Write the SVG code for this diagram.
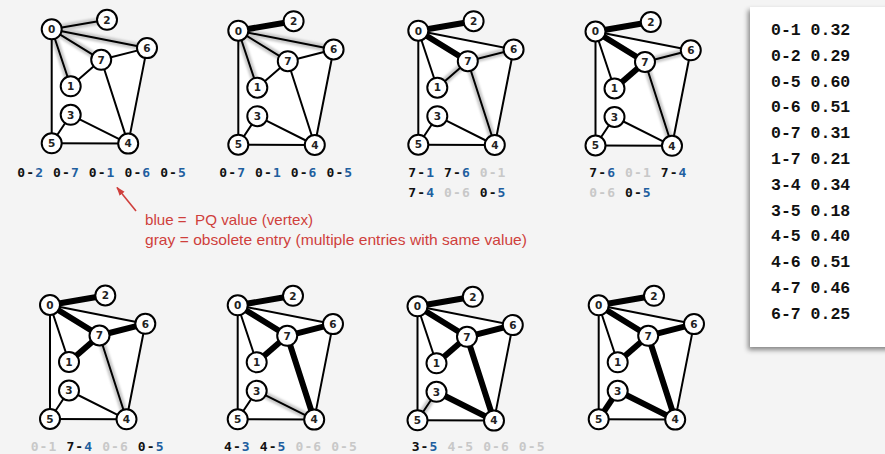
<svg xmlns="http://www.w3.org/2000/svg" width="885" height="454" viewBox="0 0 885 454">
<style>
.e{stroke:#000;stroke-width:2;stroke-linecap:round}
.b{stroke:#000;stroke-width:6;stroke-linecap:round}
.h{stroke:#c9c9c9;stroke-width:7;stroke-linecap:round;filter:url(#blur)}
.face{fill:#fff;stroke:none}
.node circle{fill:#fff;stroke:#000;stroke-width:2}
.node text{font-family:"DejaVu Sans",sans-serif;font-weight:bold;font-size:10.5px;text-anchor:middle;fill:#222}
.lab{font-family:"DejaVu Sans Mono",monospace;font-weight:bold;font-size:13px;letter-spacing:1.1px;fill:#111}
.bl{fill:#1f5f9f}
.gr{fill:#c8c8c8}
.red{font-family:"Liberation Sans",sans-serif;font-size:15px;fill:#cf3f3c}
.tab{font-family:"Liberation Mono",monospace;font-weight:bold;font-size:16.5px;fill:#111}
</style>
<defs>
<filter id="blur" x="-20%" y="-20%" width="140%" height="140%"><feGaussianBlur stdDeviation="0.9"/></filter>
<filter id="shadow" x="-10%" y="-10%" width="120%" height="120%"><feDropShadow dx="-2" dy="3" stdDeviation="2.5" flood-color="#000" flood-opacity="0.45"/></filter>
<marker id="arr" viewBox="0 0 10 10" refX="9" refY="5" markerWidth="9" markerHeight="9" orient="auto" markerUnits="userSpaceOnUse"><path d="M0,1.5 L10,5 L0,8.5 Z" fill="#cf3f3c"/></marker>
</defs>
<rect x="0" y="0" width="885" height="454" fill="#f4f4f4"/>

<!-- Graph 1 -->
<g id="graph1" transform="translate(51.7,29.3)">
<polygon class="face" points="0,0 95.3,18.8 76.5,114.3 0,114"/>
<g id="g1-connectors">
<line class="h" x1="0" y1="0" x2="55.3" y2="-9.5"/><line class="h" x1="0" y1="0" x2="49.5" y2="30.5"/><line class="h" x1="0" y1="0" x2="19" y2="57"/><line class="h" x1="0" y1="0" x2="95.3" y2="18.8"/><line class="h" x1="0" y1="0" x2="0" y2="114"/>
<line class="e" x1="0" y1="0" x2="19" y2="57"/><line class="e" x1="0" y1="0" x2="55.3" y2="-9.5"/><line class="e" x1="0" y1="0" x2="0" y2="114"/><line class="e" x1="0" y1="0" x2="95.3" y2="18.8"/><line class="e" x1="0" y1="0" x2="49.5" y2="30.5"/><line class="e" x1="19" y1="57" x2="49.5" y2="30.5"/><line class="e" x1="19" y1="85.5" x2="76.5" y2="114.3"/><line class="e" x1="19" y1="85.5" x2="0" y2="114"/><line class="e" x1="76.5" y1="114.3" x2="0" y2="114"/><line class="e" x1="76.5" y1="114.3" x2="95.3" y2="18.8"/><line class="e" x1="76.5" y1="114.3" x2="49.5" y2="30.5"/><line class="e" x1="95.3" y1="18.8" x2="49.5" y2="30.5"/>
</g>
<g id="g1-n0" class="node"><circle cx="0" cy="0" r="10"/><text x="0" y="3.8">0</text></g>
<g id="g1-n1" class="node"><circle cx="19" cy="57" r="10"/><text x="19" y="60.8">1</text></g>
<g id="g1-n2" class="node"><circle cx="55.3" cy="-9.5" r="10"/><text x="55.3" y="-5.7">2</text></g>
<g id="g1-n3" class="node"><circle cx="19" cy="85.5" r="10"/><text x="19" y="89.3">3</text></g>
<g id="g1-n4" class="node"><circle cx="76.5" cy="114.3" r="10"/><text x="76.5" y="118.1">4</text></g>
<g id="g1-n5" class="node"><circle cx="0" cy="114" r="10"/><text x="0" y="117.8">5</text></g>
<g id="g1-n6" class="node"><circle cx="95.3" cy="18.8" r="10"/><text x="95.3" y="22.6">6</text></g>
<g id="g1-n7" class="node"><circle cx="49.5" cy="30.5" r="10"/><text x="49.5" y="34.3">7</text></g>
</g>

<!-- Graph 2 -->
<g id="graph2" transform="translate(238.3,30.7)">
<polygon class="face" points="0,0 95.3,18.8 76.5,114.3 0,114"/>
<g id="g2-connectors">
<line class="h" x1="0" y1="0" x2="49.5" y2="30.5"/><line class="h" x1="0" y1="0" x2="19" y2="57"/><line class="h" x1="0" y1="0" x2="95.3" y2="18.8"/><line class="h" x1="0" y1="0" x2="0" y2="114"/>
<line class="e" x1="0" y1="0" x2="19" y2="57"/><line class="b" x1="0" y1="0" x2="55.3" y2="-9.5"/><line class="e" x1="0" y1="0" x2="0" y2="114"/><line class="e" x1="0" y1="0" x2="95.3" y2="18.8"/><line class="e" x1="0" y1="0" x2="49.5" y2="30.5"/><line class="e" x1="19" y1="57" x2="49.5" y2="30.5"/><line class="e" x1="19" y1="85.5" x2="76.5" y2="114.3"/><line class="e" x1="19" y1="85.5" x2="0" y2="114"/><line class="e" x1="76.5" y1="114.3" x2="0" y2="114"/><line class="e" x1="76.5" y1="114.3" x2="95.3" y2="18.8"/><line class="e" x1="76.5" y1="114.3" x2="49.5" y2="30.5"/><line class="e" x1="95.3" y1="18.8" x2="49.5" y2="30.5"/>
</g>
<g id="g2-n0" class="node"><circle cx="0" cy="0" r="10"/><text x="0" y="3.8">0</text></g>
<g id="g2-n1" class="node"><circle cx="19" cy="57" r="10"/><text x="19" y="60.8">1</text></g>
<g id="g2-n2" class="node"><circle cx="55.3" cy="-9.5" r="10"/><text x="55.3" y="-5.7">2</text></g>
<g id="g2-n3" class="node"><circle cx="19" cy="85.5" r="10"/><text x="19" y="89.3">3</text></g>
<g id="g2-n4" class="node"><circle cx="76.5" cy="114.3" r="10"/><text x="76.5" y="118.1">4</text></g>
<g id="g2-n5" class="node"><circle cx="0" cy="114" r="10"/><text x="0" y="117.8">5</text></g>
<g id="g2-n6" class="node"><circle cx="95.3" cy="18.8" r="10"/><text x="95.3" y="22.6">6</text></g>
<g id="g2-n7" class="node"><circle cx="49.5" cy="30.5" r="10"/><text x="49.5" y="34.3">7</text></g>
</g>

<!-- Graph 3 -->
<g id="graph3" transform="translate(418.3,30.7)">
<polygon class="face" points="0,0 95.3,18.8 76.5,114.3 0,114"/>
<g id="g3-connectors">
<line class="h" x1="19" y1="57" x2="49.5" y2="30.5"/><line class="h" x1="95.3" y1="18.8" x2="49.5" y2="30.5"/><line class="h" x1="76.5" y1="114.3" x2="49.5" y2="30.5"/><line class="h" x1="0" y1="0" x2="0" y2="114"/>
<line class="e" x1="0" y1="0" x2="19" y2="57"/><line class="b" x1="0" y1="0" x2="55.3" y2="-9.5"/><line class="e" x1="0" y1="0" x2="0" y2="114"/><line class="e" x1="0" y1="0" x2="95.3" y2="18.8"/><line class="b" x1="0" y1="0" x2="49.5" y2="30.5"/><line class="e" x1="19" y1="57" x2="49.5" y2="30.5"/><line class="e" x1="19" y1="85.5" x2="76.5" y2="114.3"/><line class="e" x1="19" y1="85.5" x2="0" y2="114"/><line class="e" x1="76.5" y1="114.3" x2="0" y2="114"/><line class="e" x1="76.5" y1="114.3" x2="95.3" y2="18.8"/><line class="e" x1="76.5" y1="114.3" x2="49.5" y2="30.5"/><line class="e" x1="95.3" y1="18.8" x2="49.5" y2="30.5"/>
</g>
<g id="g3-n0" class="node"><circle cx="0" cy="0" r="10"/><text x="0" y="3.8">0</text></g>
<g id="g3-n1" class="node"><circle cx="19" cy="57" r="10"/><text x="19" y="60.8">1</text></g>
<g id="g3-n2" class="node"><circle cx="55.3" cy="-9.5" r="10"/><text x="55.3" y="-5.7">2</text></g>
<g id="g3-n3" class="node"><circle cx="19" cy="85.5" r="10"/><text x="19" y="89.3">3</text></g>
<g id="g3-n4" class="node"><circle cx="76.5" cy="114.3" r="10"/><text x="76.5" y="118.1">4</text></g>
<g id="g3-n5" class="node"><circle cx="0" cy="114" r="10"/><text x="0" y="117.8">5</text></g>
<g id="g3-n6" class="node"><circle cx="95.3" cy="18.8" r="10"/><text x="95.3" y="22.6">6</text></g>
<g id="g3-n7" class="node"><circle cx="49.5" cy="30.5" r="10"/><text x="49.5" y="34.3">7</text></g>
</g>

<!-- Graph 4 -->
<g id="graph4" transform="translate(595.5,31.5)">
<polygon class="face" points="0,0 95.3,18.8 76.5,114.3 0,114"/>
<g id="g4-connectors">
<line class="h" x1="95.3" y1="18.8" x2="49.5" y2="30.5"/><line class="h" x1="76.5" y1="114.3" x2="49.5" y2="30.5"/><line class="h" x1="0" y1="0" x2="0" y2="114"/>
<line class="e" x1="0" y1="0" x2="19" y2="57"/><line class="b" x1="0" y1="0" x2="55.3" y2="-9.5"/><line class="e" x1="0" y1="0" x2="0" y2="114"/><line class="e" x1="0" y1="0" x2="95.3" y2="18.8"/><line class="b" x1="0" y1="0" x2="49.5" y2="30.5"/><line class="b" x1="19" y1="57" x2="49.5" y2="30.5"/><line class="e" x1="19" y1="85.5" x2="76.5" y2="114.3"/><line class="e" x1="19" y1="85.5" x2="0" y2="114"/><line class="e" x1="76.5" y1="114.3" x2="0" y2="114"/><line class="e" x1="76.5" y1="114.3" x2="95.3" y2="18.8"/><line class="e" x1="76.5" y1="114.3" x2="49.5" y2="30.5"/><line class="e" x1="95.3" y1="18.8" x2="49.5" y2="30.5"/>
</g>
<g id="g4-n0" class="node"><circle cx="0" cy="0" r="10"/><text x="0" y="3.8">0</text></g>
<g id="g4-n1" class="node"><circle cx="19" cy="57" r="10"/><text x="19" y="60.8">1</text></g>
<g id="g4-n2" class="node"><circle cx="55.3" cy="-9.5" r="10"/><text x="55.3" y="-5.7">2</text></g>
<g id="g4-n3" class="node"><circle cx="19" cy="85.5" r="10"/><text x="19" y="89.3">3</text></g>
<g id="g4-n4" class="node"><circle cx="76.5" cy="114.3" r="10"/><text x="76.5" y="118.1">4</text></g>
<g id="g4-n5" class="node"><circle cx="0" cy="114" r="10"/><text x="0" y="117.8">5</text></g>
<g id="g4-n6" class="node"><circle cx="95.3" cy="18.8" r="10"/><text x="95.3" y="22.6">6</text></g>
<g id="g4-n7" class="node"><circle cx="49.5" cy="30.5" r="10"/><text x="49.5" y="34.3">7</text></g>
</g>

<!-- Graph 5 -->
<g id="graph5" transform="translate(50,305)">
<polygon class="face" points="0,0 95.3,18.8 76.5,114.3 0,114"/>
<g id="g5-connectors">
<line class="h" x1="76.5" y1="114.3" x2="49.5" y2="30.5"/><line class="h" x1="0" y1="0" x2="0" y2="114"/>
<line class="e" x1="0" y1="0" x2="19" y2="57"/><line class="b" x1="0" y1="0" x2="55.3" y2="-9.5"/><line class="e" x1="0" y1="0" x2="0" y2="114"/><line class="e" x1="0" y1="0" x2="95.3" y2="18.8"/><line class="b" x1="0" y1="0" x2="49.5" y2="30.5"/><line class="b" x1="19" y1="57" x2="49.5" y2="30.5"/><line class="e" x1="19" y1="85.5" x2="76.5" y2="114.3"/><line class="e" x1="19" y1="85.5" x2="0" y2="114"/><line class="e" x1="76.5" y1="114.3" x2="0" y2="114"/><line class="e" x1="76.5" y1="114.3" x2="95.3" y2="18.8"/><line class="e" x1="76.5" y1="114.3" x2="49.5" y2="30.5"/><line class="b" x1="95.3" y1="18.8" x2="49.5" y2="30.5"/>
</g>
<g id="g5-n0" class="node"><circle cx="0" cy="0" r="10"/><text x="0" y="3.8">0</text></g>
<g id="g5-n1" class="node"><circle cx="19" cy="57" r="10"/><text x="19" y="60.8">1</text></g>
<g id="g5-n2" class="node"><circle cx="55.3" cy="-9.5" r="10"/><text x="55.3" y="-5.7">2</text></g>
<g id="g5-n3" class="node"><circle cx="19" cy="85.5" r="10"/><text x="19" y="89.3">3</text></g>
<g id="g5-n4" class="node"><circle cx="76.5" cy="114.3" r="10"/><text x="76.5" y="118.1">4</text></g>
<g id="g5-n5" class="node"><circle cx="0" cy="114" r="10"/><text x="0" y="117.8">5</text></g>
<g id="g5-n6" class="node"><circle cx="95.3" cy="18.8" r="10"/><text x="95.3" y="22.6">6</text></g>
<g id="g5-n7" class="node"><circle cx="49.5" cy="30.5" r="10"/><text x="49.5" y="34.3">7</text></g>
</g>

<!-- Graph 6 -->
<g id="graph6" transform="translate(237.7,305.3)">
<polygon class="face" points="0,0 95.3,18.8 76.5,114.3 0,114"/>
<g id="g6-connectors">
<line class="h" x1="19" y1="85.5" x2="76.5" y2="114.3"/><line class="h" x1="76.5" y1="114.3" x2="0" y2="114"/>
<line class="e" x1="0" y1="0" x2="19" y2="57"/><line class="b" x1="0" y1="0" x2="55.3" y2="-9.5"/><line class="e" x1="0" y1="0" x2="0" y2="114"/><line class="e" x1="0" y1="0" x2="95.3" y2="18.8"/><line class="b" x1="0" y1="0" x2="49.5" y2="30.5"/><line class="b" x1="19" y1="57" x2="49.5" y2="30.5"/><line class="e" x1="19" y1="85.5" x2="76.5" y2="114.3"/><line class="e" x1="19" y1="85.5" x2="0" y2="114"/><line class="e" x1="76.5" y1="114.3" x2="0" y2="114"/><line class="e" x1="76.5" y1="114.3" x2="95.3" y2="18.8"/><line class="b" x1="76.5" y1="114.3" x2="49.5" y2="30.5"/><line class="b" x1="95.3" y1="18.8" x2="49.5" y2="30.5"/>
</g>
<g id="g6-n0" class="node"><circle cx="0" cy="0" r="10"/><text x="0" y="3.8">0</text></g>
<g id="g6-n1" class="node"><circle cx="19" cy="57" r="10"/><text x="19" y="60.8">1</text></g>
<g id="g6-n2" class="node"><circle cx="55.3" cy="-9.5" r="10"/><text x="55.3" y="-5.7">2</text></g>
<g id="g6-n3" class="node"><circle cx="19" cy="85.5" r="10"/><text x="19" y="89.3">3</text></g>
<g id="g6-n4" class="node"><circle cx="76.5" cy="114.3" r="10"/><text x="76.5" y="118.1">4</text></g>
<g id="g6-n5" class="node"><circle cx="0" cy="114" r="10"/><text x="0" y="117.8">5</text></g>
<g id="g6-n6" class="node"><circle cx="95.3" cy="18.8" r="10"/><text x="95.3" y="22.6">6</text></g>
<g id="g6-n7" class="node"><circle cx="49.5" cy="30.5" r="10"/><text x="49.5" y="34.3">7</text></g>
</g>

<!-- Graph 7 -->
<g id="graph7" transform="translate(417.5,306.3)">
<polygon class="face" points="0,0 95.3,18.8 76.5,114.3 0,114"/>
<g id="g7-connectors">
<line class="h" x1="19" y1="85.5" x2="0" y2="114"/>
<line class="e" x1="0" y1="0" x2="19" y2="57"/><line class="b" x1="0" y1="0" x2="55.3" y2="-9.5"/><line class="e" x1="0" y1="0" x2="0" y2="114"/><line class="e" x1="0" y1="0" x2="95.3" y2="18.8"/><line class="b" x1="0" y1="0" x2="49.5" y2="30.5"/><line class="b" x1="19" y1="57" x2="49.5" y2="30.5"/><line class="b" x1="19" y1="85.5" x2="76.5" y2="114.3"/><line class="e" x1="19" y1="85.5" x2="0" y2="114"/><line class="e" x1="76.5" y1="114.3" x2="0" y2="114"/><line class="e" x1="76.5" y1="114.3" x2="95.3" y2="18.8"/><line class="b" x1="76.5" y1="114.3" x2="49.5" y2="30.5"/><line class="b" x1="95.3" y1="18.8" x2="49.5" y2="30.5"/>
</g>
<g id="g7-n0" class="node"><circle cx="0" cy="0" r="10"/><text x="0" y="3.8">0</text></g>
<g id="g7-n1" class="node"><circle cx="19" cy="57" r="10"/><text x="19" y="60.8">1</text></g>
<g id="g7-n2" class="node"><circle cx="55.3" cy="-9.5" r="10"/><text x="55.3" y="-5.7">2</text></g>
<g id="g7-n3" class="node"><circle cx="19" cy="85.5" r="10"/><text x="19" y="89.3">3</text></g>
<g id="g7-n4" class="node"><circle cx="76.5" cy="114.3" r="10"/><text x="76.5" y="118.1">4</text></g>
<g id="g7-n5" class="node"><circle cx="0" cy="114" r="10"/><text x="0" y="117.8">5</text></g>
<g id="g7-n6" class="node"><circle cx="95.3" cy="18.8" r="10"/><text x="95.3" y="22.6">6</text></g>
<g id="g7-n7" class="node"><circle cx="49.5" cy="30.5" r="10"/><text x="49.5" y="34.3">7</text></g>
</g>

<!-- Graph 8 -->
<g id="graph8" transform="translate(598.7,305.3)">
<polygon class="face" points="0,0 95.3,18.8 76.5,114.3 0,114"/>
<g id="g8-connectors">
<line class="e" x1="0" y1="0" x2="19" y2="57"/><line class="b" x1="0" y1="0" x2="55.3" y2="-9.5"/><line class="e" x1="0" y1="0" x2="0" y2="114"/><line class="e" x1="0" y1="0" x2="95.3" y2="18.8"/><line class="b" x1="0" y1="0" x2="49.5" y2="30.5"/><line class="b" x1="19" y1="57" x2="49.5" y2="30.5"/><line class="b" x1="19" y1="85.5" x2="76.5" y2="114.3"/><line class="b" x1="19" y1="85.5" x2="0" y2="114"/><line class="e" x1="76.5" y1="114.3" x2="0" y2="114"/><line class="e" x1="76.5" y1="114.3" x2="95.3" y2="18.8"/><line class="b" x1="76.5" y1="114.3" x2="49.5" y2="30.5"/><line class="b" x1="95.3" y1="18.8" x2="49.5" y2="30.5"/>
</g>
<g id="g8-n0" class="node"><circle cx="0" cy="0" r="10"/><text x="0" y="3.8">0</text></g>
<g id="g8-n1" class="node"><circle cx="19" cy="57" r="10"/><text x="19" y="60.8">1</text></g>
<g id="g8-n2" class="node"><circle cx="55.3" cy="-9.5" r="10"/><text x="55.3" y="-5.7">2</text></g>
<g id="g8-n3" class="node"><circle cx="19" cy="85.5" r="10"/><text x="19" y="89.3">3</text></g>
<g id="g8-n4" class="node"><circle cx="76.5" cy="114.3" r="10"/><text x="76.5" y="118.1">4</text></g>
<g id="g8-n5" class="node"><circle cx="0" cy="114" r="10"/><text x="0" y="117.8">5</text></g>
<g id="g8-n6" class="node"><circle cx="95.3" cy="18.8" r="10"/><text x="95.3" y="22.6">6</text></g>
<g id="g8-n7" class="node"><circle cx="49.5" cy="30.5" r="10"/><text x="49.5" y="34.3">7</text></g>
</g>

<!-- PQ labels -->
<g id="pq-labels">
<text class="lab" x="17.3" y="177.3">0-<tspan class="bl">2</tspan> 0-<tspan class="bl">7</tspan> 0-<tspan class="bl">1</tspan> 0-<tspan class="bl">6</tspan> 0-<tspan class="bl">5</tspan></text>
<text class="lab" x="219.3" y="177.3">0-<tspan class="bl">7</tspan> 0-<tspan class="bl">1</tspan> 0-<tspan class="bl">6</tspan> 0-<tspan class="bl">5</tspan></text>
<text class="lab" x="408.3" y="177.3">7-<tspan class="bl">1</tspan> 7-<tspan class="bl">6</tspan> <tspan class="gr">0-1</tspan></text>
<text class="lab" x="408.3" y="197.3">7-<tspan class="bl">4</tspan> <tspan class="gr">0-6</tspan> 0-<tspan class="bl">5</tspan></text>
<text class="lab" x="589.3" y="177.3">7-<tspan class="bl">6</tspan> <tspan class="gr">0-1</tspan> 7-<tspan class="bl">4</tspan></text>
<text class="lab" x="589.3" y="197.3"><tspan class="gr">0-6</tspan> 0-<tspan class="bl">5</tspan></text>
<text class="lab" x="30.7" y="451.3"><tspan class="gr">0-1</tspan> 7-<tspan class="bl">4</tspan> <tspan class="gr">0-6</tspan> 0-<tspan class="bl">5</tspan></text>
<text class="lab" x="224" y="451.3">4-<tspan class="bl">3</tspan> 4-<tspan class="bl">5</tspan> <tspan class="gr">0-6</tspan> <tspan class="gr">0-5</tspan></text>
<text class="lab" x="411.7" y="451.3">3-<tspan class="bl">5</tspan> <tspan class="gr">4-5</tspan> <tspan class="gr">0-6</tspan> <tspan class="gr">0-5</tspan></text>
</g>

<!-- annotation -->
<g id="annotation">
<line x1="136" y1="211" x2="117" y2="187.5" stroke="#cf3f3c" stroke-width="1.6" marker-end="url(#arr)"/>
<text class="red" x="145" y="225" textLength="168" lengthAdjust="spacingAndGlyphs" xml:space="preserve">blue =  PQ value (vertex)</text>
<text class="red" x="145" y="245" textLength="382" lengthAdjust="spacingAndGlyphs">gray = obsolete entry (multiple entries with same value)</text>
</g>

<!-- weight table -->
<g id="edge-table">
<rect x="750" y="7" width="150" height="340" fill="#fff" filter="url(#shadow)"/>
<text class="tab" x="771" y="35">0-1 0.32</text>
<text class="tab" x="771" y="60.8">0-2 0.29</text>
<text class="tab" x="771" y="86.6">0-5 0.60</text>
<text class="tab" x="771" y="112.4">0-6 0.51</text>
<text class="tab" x="771" y="138.2">0-7 0.31</text>
<text class="tab" x="771" y="164">1-7 0.21</text>
<text class="tab" x="771" y="189.8">3-4 0.34</text>
<text class="tab" x="771" y="215.6">3-5 0.18</text>
<text class="tab" x="771" y="241.4">4-5 0.40</text>
<text class="tab" x="771" y="267.2">4-6 0.51</text>
<text class="tab" x="771" y="293">4-7 0.46</text>
<text class="tab" x="771" y="318.8">6-7 0.25</text>
</g>
</svg>
